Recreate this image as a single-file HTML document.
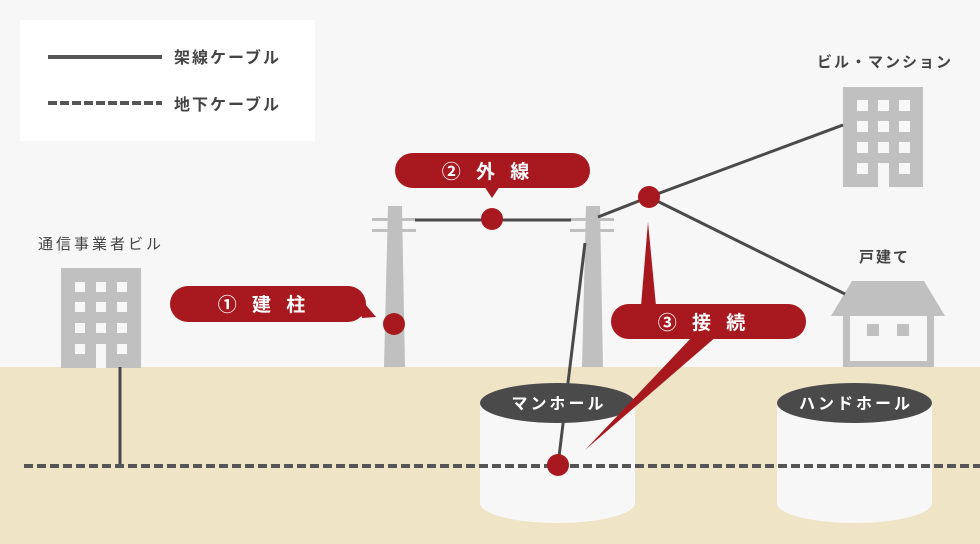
<!DOCTYPE html>
<html><head><meta charset="utf-8"><style>
html,body{margin:0;padding:0;background:#f7f7f7}
svg{display:block}
text{font-family:"Liberation Sans","Noto Sans CJK JP",sans-serif}
</style></head><body>
<svg width="980" height="544" viewBox="0 0 980 544" xmlns="http://www.w3.org/2000/svg">
<rect width="980" height="544" fill="#f7f7f7"/>
<rect x="0" y="367" width="980" height="177" fill="#efe4c6"/>
<!-- legend -->
<rect x="20" y="20" width="295" height="121" fill="#fff"/>
<line x1="48" y1="57" x2="162" y2="57" stroke="#555" stroke-width="4"/>
<line x1="48" y1="103" x2="162" y2="103" stroke="#555" stroke-width="4" stroke-dasharray="9,3"/>
<text x="174" y="63" font-size="16" fill="#444" letter-spacing="2" font-weight="bold">架線ケーブル</text>
<text x="174" y="110" font-size="16" fill="#444" letter-spacing="2" font-weight="bold">地下ケーブル</text>
<!-- left building -->
<text x="38" y="249" font-size="15" fill="#444" letter-spacing="3">通信事業者ビル</text>
<rect x="61" y="268" width="80" height="100" fill="#c0c0c0"/>
<g fill="#f7f7f7">
<rect x="75" y="282" width="10" height="10"/><rect x="96" y="282" width="10" height="10"/><rect x="117" y="282" width="10" height="10"/>
<rect x="75" y="302" width="10" height="10"/><rect x="96" y="302" width="10" height="10"/><rect x="117" y="302" width="10" height="10"/>
<rect x="75" y="323" width="10" height="10"/><rect x="96" y="323" width="10" height="10"/><rect x="117" y="323" width="10" height="10"/>
<rect x="75" y="344" width="10" height="10"/><rect x="96" y="344" width="10" height="24"/><rect x="117" y="344" width="10" height="10"/>
</g>
<!-- right building -->
<text x="817" y="67" font-size="15" fill="#444" letter-spacing="2" font-weight="bold">ビル・マンション</text>
<rect x="843" y="87" width="80" height="100" fill="#c0c0c0"/>
<g fill="#f7f7f7">
<rect x="857" y="100" width="11" height="11"/><rect x="878" y="100" width="11" height="11"/><rect x="899" y="100" width="11" height="11"/>
<rect x="857" y="121" width="11" height="11"/><rect x="878" y="121" width="11" height="11"/><rect x="899" y="121" width="11" height="11"/>
<rect x="857" y="142" width="11" height="11"/><rect x="878" y="142" width="11" height="11"/><rect x="899" y="142" width="11" height="11"/>
<rect x="857" y="163" width="11" height="11"/><rect x="878" y="163" width="11" height="24"/><rect x="899" y="163" width="11" height="11"/>
</g>
<!-- house -->
<text x="859" y="262" font-size="15" fill="#444" letter-spacing="2" font-weight="bold">戸建て</text>
<polygon points="852,281 924,281 945,316 831,316" fill="#c0c0c0"/>
<rect x="843" y="316" width="91" height="51" fill="#c0c0c0"/>
<rect x="850" y="316" width="77" height="45" fill="#f7f7f7"/>
<rect x="867" y="324" width="12" height="12" fill="#c0c0c0"/>
<rect x="897" y="324" width="12" height="12" fill="#c0c0c0"/>
<!-- poles -->
<polygon points="388,206 402,206 405,367 384,367" fill="#c0c0c0"/>
<rect x="372" y="218" width="44" height="3" fill="#c0c0c0"/>
<rect x="372" y="229" width="44" height="3" fill="#c0c0c0"/>
<polygon points="586,206 600,206 603,367 582,367" fill="#c0c0c0"/>
<rect x="570" y="218" width="44" height="3" fill="#c0c0c0"/>
<rect x="570" y="229" width="44" height="3" fill="#c0c0c0"/>
<!-- wires -->
<line x1="415" y1="220" x2="571" y2="220" stroke="#4a4a4a" stroke-width="3"/>
<line x1="598" y1="217" x2="649" y2="197" stroke="#4a4a4a" stroke-width="3"/>
<line x1="649" y1="197" x2="843" y2="125" stroke="#4a4a4a" stroke-width="3"/>
<line x1="649" y1="197" x2="845" y2="294" stroke="#4a4a4a" stroke-width="3"/>
<line x1="120" y1="367" x2="120" y2="466" stroke="#4a4a4a" stroke-width="3"/>
<!-- manholes -->
<path d="M480,403 L480,503 A77.5,20 0 0 0 635,503 L635,403 Z" fill="#f7f7f7"/>
<ellipse cx="557.5" cy="403" rx="77.5" ry="20" fill="#4a4a4a"/>
<text x="559" y="409" font-size="16" fill="#fff" text-anchor="middle" font-weight="bold" letter-spacing="3">マンホール</text>
<path d="M777,403 L777,503 A77.5,20 0 0 0 932,503 L932,403 Z" fill="#f7f7f7"/>
<ellipse cx="854.5" cy="403" rx="77.5" ry="20" fill="#4a4a4a"/>
<text x="856" y="409" font-size="16" fill="#fff" text-anchor="middle" font-weight="bold" letter-spacing="3">ハンドホール</text>
<line x1="585" y1="243" x2="558" y2="465" stroke="#4a4a4a" stroke-width="3"/>
<line x1="24" y1="466" x2="980" y2="466" stroke="#555" stroke-width="4" stroke-dasharray="9,4"/>
<!-- callouts -->
<g fill="#a8191f">
<rect x="395" y="153" width="195" height="35" rx="17.5"/>
<polygon points="484,186 500,186 492,198"/>
<rect x="170" y="286" width="196" height="36" rx="18"/>
<polygon points="355,292 362,318 376,317"/>
<rect x="611" y="304" width="195" height="35" rx="17.5"/>
<polygon points="641,306 656,306 648,222"/>
<polygon points="693,336 717,336 585,450"/>
<circle cx="492" cy="219" r="11"/>
<circle cx="394" cy="324" r="11"/>
<circle cx="649" cy="197" r="11"/>
<circle cx="558" cy="465" r="11"/>
</g>
<g font-size="19" fill="#fff" font-weight="bold" text-anchor="middle">
<text x="488" y="178" letter-spacing="5">② 外 線</text>
<text x="264" y="311" letter-spacing="5">① 建 柱</text>
<text x="704" y="329" letter-spacing="5">③ 接 続</text>
</g>
</svg>
</body></html>
